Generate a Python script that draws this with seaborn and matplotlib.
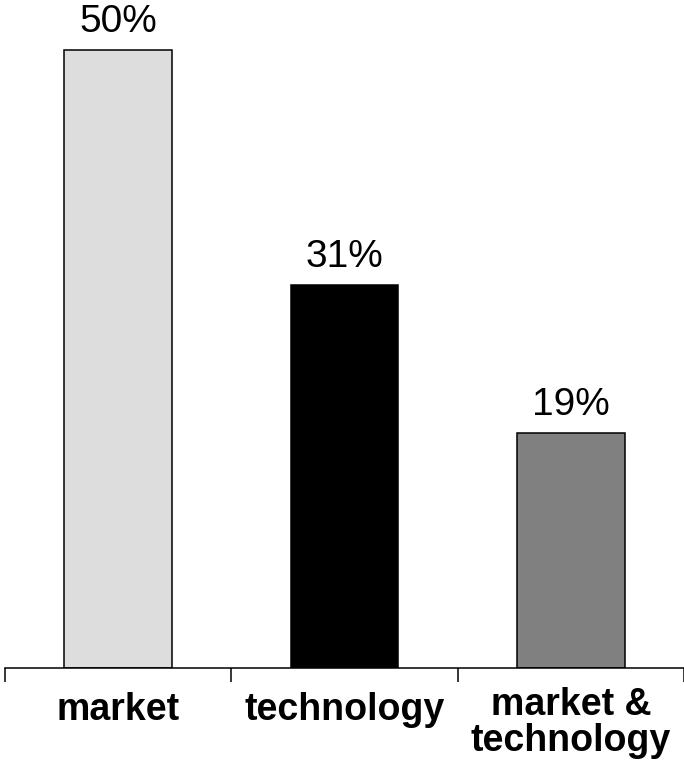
import matplotlib
matplotlib.use("Agg")
import matplotlib.pyplot as plt
import matplotlib.transforms as mtransforms
import seaborn as sns
import pandas as pd

categories = ["market", "technology", "market &\ntechnology"]
shares = [50, 31, 19]
value_labels = ["50%", "31%", "19%"]
bar_colors = ["#dddddd", "#000000", "#808080"]

sns.set_style("white")
plt.rcParams["font.family"] = ["Liberation Sans", "DejaVu Sans"]
plt.rcParams["text.color"] = "black"
plt.rcParams["xtick.color"] = "black"

df = pd.DataFrame({"category": categories, "share": shares})

fig = plt.figure(figsize=(6.84, 7.60), dpi=100)
ax = fig.add_axes([5 / 684, 92 / 760, 679 / 684, 668 / 760])

sns.barplot(data=df, x="category", y="share", hue="category",
            palette=bar_colors, legend=False, width=0.476,
            edgecolor="black", linewidth=1.1, saturation=1, ax=ax)

ax.set_xlim(-0.5, 2.5)
ax.set_ylim(0, 54.05)

for spine in ["left", "right", "top"]:
    ax.spines[spine].set_visible(False)
ax.spines["bottom"].set_linewidth(1.1)
ax.spines["bottom"].set_color("black")

ax.set_yticks([])
ax.set_xlabel("")
ax.set_ylabel("")

ax.set_xticks([0, 1, 2])
ax.set_xticklabels(categories, fontsize=27, fontweight="bold",
                   linespacing=0.98, color="black")
ax.set_xticks([-0.5, 0.5, 1.5, 2.5], minor=True)
ax.tick_params(axis="x", which="major", length=0, pad=17)
ax.tick_params(axis="x", which="minor", length=10, width=1.1,
               color="black", direction="out", bottom=True)

# lift the two-line category label slightly
two_line = ax.get_xticklabels()[2]
two_line.set_transform(two_line.get_transform()
                       + mtransforms.ScaledTranslation(0, 3 / 72, fig.dpi_scale_trans))

for i, (v, lab) in enumerate(zip(shares, value_labels)):
    ax.annotate(lab, (i, v), xytext=(0, 13), textcoords="offset points",
                ha="center", va="baseline", fontsize=28, color="black")

fig.savefig("out.png", dpi=100)
